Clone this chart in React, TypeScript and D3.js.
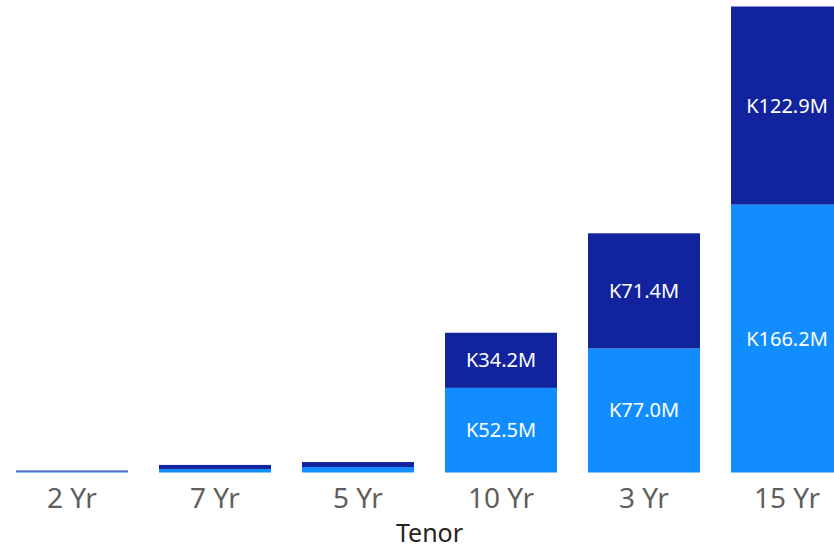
import React, { useEffect, useRef } from "react";
import * as d3 from "d3";

// Tenor buckets in the order shown
const tenors = ["2 Yr", "7 Yr", "5 Yr", "10 Yr", "3 Yr", "15 Yr"];
// lower (light blue) series, in millions
const lowerValues = [0.6, 2.2, 3.4, 52.5, 77.0, 166.2];
// upper (dark blue) series, in millions
const upperValues = [0.6, 2.5, 3.1, 34.2, 71.4, 122.9];

const App = () => {
  const ref = useRef(null);

  useEffect(() => {
    const width = 834;
    const height = 548;
    const baseline = 472.5;
    const font = "'Segoe UI', 'Noto Sans', sans-serif";

    const svg = d3
      .select(ref.current)
      .attr("width", width)
      .attr("height", height);

    svg.selectAll("*").remove();

    const x = d3
      .scaleBand()
      .domain(tenors)
      .range([16, 843])
      .paddingInner(31 / 143)
      .paddingOuter(0);

    const y = d3.scaleLinear().domain([0, 289.1]).range([baseline, 6.5]);

    const rows = tenors.map((t, i) => ({
      tenor: t,
      lower: lowerValues[i],
      upper: upperValues[i],
    }));

    const stacked = d3.stack().keys(["lower", "upper"])(rows);
    const colors = ["#118DFF", "#12239E"];

    const layer = svg
      .append("g")
      .selectAll("g")
      .data(stacked)
      .join("g")
      .attr("fill", (d, i) => colors[i]);

    layer
      .selectAll("rect")
      .data((d) => d)
      .join("rect")
      .attr("x", (d) => x(d.data.tenor))
      .attr("width", x.bandwidth())
      .attr("y", (d) => y(d[1]))
      .attr("height", (d) => y(d[0]) - y(d[1]));

    // value labels, only where the segment is tall enough
    layer
      .selectAll("text")
      .data((d) => d.filter((s) => y(s[0]) - y(s[1]) > 30))
      .join("text")
      .attr("x", (d) => x(d.data.tenor) + x.bandwidth() / 2)
      .attr("y", (d) => (y(d[0]) + y(d[1])) / 2)
      .attr("dy", "0.35em")
      .attr("text-anchor", "middle")
      .attr("fill", "white")
      .attr("font-family", font)
      .attr("font-size", "20px")
      .text((d) => `K${(d[1] - d[0]).toFixed(1)}M`);

    // x axis labels
    svg
      .append("g")
      .attr("transform", `translate(0,${baseline})`)
      .call(d3.axisBottom(x).tickSize(0).tickPadding(16))
      .call((g) => g.select(".domain").remove())
      .call((g) =>
        g
          .selectAll("text")
          .attr("fill", "#605E5C")
          .attr("font-family", font)
          .attr("font-size", "28px")
      );

    svg
      .append("text")
      .attr("x", (16 + 843) / 2)
      .attr("y", 542)
      .attr("text-anchor", "middle")
      .attr("fill", "#252423")
      .attr("font-family", font)
      .attr("font-size", "25px")
      .text("Tenor");
  }, []);

  return (
    <svg
      ref={ref}
      style={{ position: "absolute", left: 0, top: 0, display: "block" }}
    ></svg>
  );
};

export default App;
